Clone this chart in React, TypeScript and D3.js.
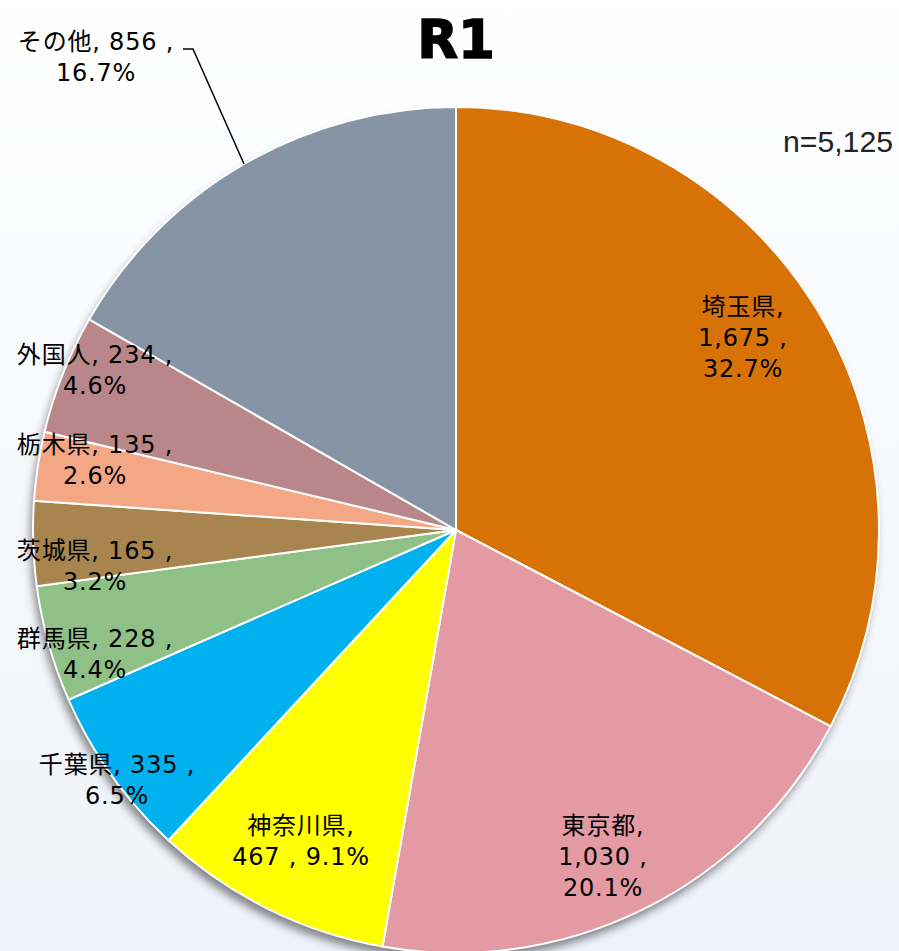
import React from "react";
import * as d3 from "d3";

const categories = ["埼玉県", "東京都", "神奈川県", "千葉県", "群馬県", "茨城県", "栃木県", "外国人", "その他"];
const values = [1675, 1030, 467, 335, 228, 165, 135, 234, 856];
const percents = ["32.7%", "20.1%", "9.1%", "6.5%", "4.4%", "3.2%", "2.6%", "4.6%", "16.7%"];
const colors = ["#D77207", "#E39AA2", "#FFFF00", "#00B0EF", "#8FC085", "#A8844E", "#F4A785", "#B9878A", "#8794A5"];
const total = 5125;
const title = "R1";

// label layout (lines + centre positions)
const labelLines: string[][] = [
  [`${categories[0]},`, `${d3.format(",")(values[0])} ,`, percents[0]],
  [`${categories[1]},`, `${d3.format(",")(values[1])} ,`, percents[1]],
  [`${categories[2]},`, `${values[2]} , ${percents[2]}`],
  [`${categories[3]}, ${values[3]} ,`, percents[3]],
  [`${categories[4]}, ${values[4]} ,`, percents[4]],
  [`${categories[5]}, ${values[5]} ,`, percents[5]],
  [`${categories[6]}, ${values[6]} ,`, percents[6]],
  [`${categories[7]}, ${values[7]} ,`, percents[7]],
  [`${categories[8]}, ${values[8]} ,`, percents[8]],
];
const labelPos: [number, number][] = [
  [743, 315],
  [603, 834],
  [301, 834],
  [117, 773],
  [95, 647],
  [95, 559],
  [95, 453],
  [95, 363],
  [96, 50],
];

export default function App() {
  const W = 899, H = 951;
  const cx = 456, cy = 530, r = 423;
  const pie = d3.pie<number>().sort(null).value((d) => d);
  const arcs = pie(values);
  const arc = d3.arc<d3.PieArcDatum<number>>().innerRadius(0).outerRadius(r);
  const font = "Verdana, 'DejaVu Sans', 'Noto Sans CJK JP', sans-serif";
  return (
    <svg width={W} height={H} style={{ position: "absolute", left: 0, top: 0 }}>
      <defs>
        <linearGradient id="bg" x1="0" y1="0" x2="0" y2="1">
          <stop offset="0" stopColor="#FFFFFF" />
          <stop offset="1" stopColor="#EEF2FA" />
        </linearGradient>
        <filter id="sh" x="-10%" y="-10%" width="120%" height="125%">
          <feDropShadow dx="-3" dy="7" stdDeviation="4" floodColor="#000" floodOpacity="0.45" />
        </filter>
      </defs>
      <rect width={W} height={H} fill="url(#bg)" />
      <g transform={`translate(${cx},${cy})`}>
        <circle r={r} fill="#888" filter="url(#sh)" />
        {arcs.map((a, i) => (
          <path key={i} d={arc(a) || ""} fill={colors[i]} stroke="#FFFFFF" strokeWidth={2} />
        ))}
      </g>
      <text x={456} y={58} textAnchor="middle" fontFamily="'DejaVu Sans', Verdana, sans-serif" fontWeight="bold" fontSize={53} fill="#000" stroke="#000" strokeWidth={1.5}>
        {title}
      </text>
      <text x={893} y={152} textAnchor="end" fontFamily="'Liberation Sans', Arial, sans-serif" fontSize={30} fill="#222" textLength={110} lengthAdjust="spacingAndGlyphs">
        n={d3.format(",")(total)}
      </text>
      <polyline points="183,49 193,49 244,164" fill="none" stroke="#000" strokeWidth={1.5} />
      {labelLines.map((lines, i) => (
        <text key={i} textAnchor="middle" fontFamily={font} fontSize={24} letterSpacing={0.8} fill="#000">
          {lines.map((t, j) => (
            <tspan key={j} x={labelPos[i][0]} y={labelPos[i][1] + j * 31}>
              {t}
            </tspan>
          ))}
        </text>
      ))}
    </svg>
  );
}
